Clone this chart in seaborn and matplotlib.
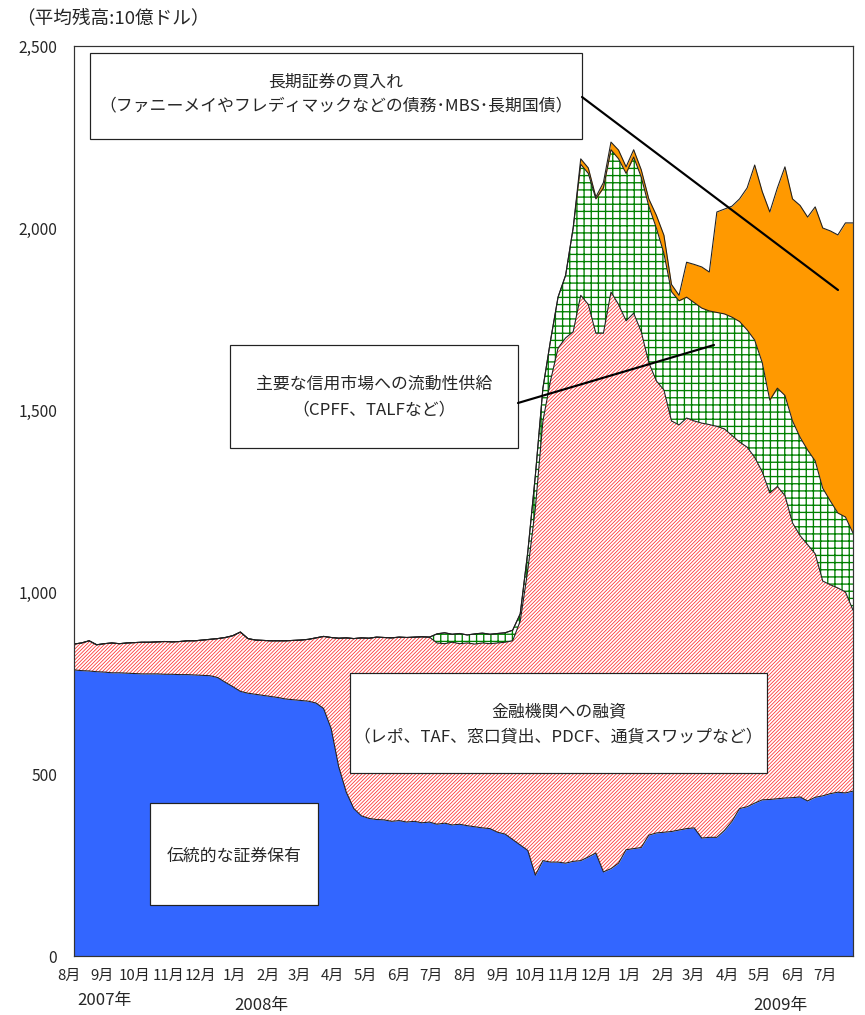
import numpy as np
import pandas as pd
import seaborn as sns
import matplotlib.pyplot as plt
import matplotlib.transforms as mtransforms
from matplotlib.patches import Rectangle
from matplotlib.lines import Line2D

# weekly average balances, 10億ドル
weeks = pd.date_range("2007-08-01", periods=104, freq="7D")

traditional = [786, 784, 783, 781, 780, 778, 778, 777, 776, 775,
               775, 775, 774, 774, 773, 773, 772, 771, 770, 765,
               752, 740, 727, 722, 719, 716, 713, 710, 706, 704,
               702, 700, 695, 680, 625, 520, 450, 405, 385, 378,
               375, 374, 370, 372, 368, 370, 366, 368, 362, 365,
               360, 362, 358, 355, 352, 350, 340, 335, 320, 305,
               290, 222, 262, 258, 258, 255, 260, 262, 272, 283,
               231, 240, 255, 292, 295, 298, 332, 338, 340, 342,
               346, 350, 352, 324, 326, 326, 345, 370, 405, 410,
               420, 429, 430, 432, 434, 435, 437, 426, 436, 440,
               446, 450, 448, 453]

lending = [71, 76, 83, 74, 78, 82, 80, 83, 85, 87,
           87, 88, 90, 89, 91, 93, 94, 97, 100, 107,
           123, 140, 163, 150, 149, 151, 153, 156, 160, 163,
           166, 170, 179, 198, 250, 353, 424, 467, 489, 495,
           501, 501, 504, 504, 507, 506, 511, 508, 498, 493,
           502, 496, 502, 502, 508, 508, 520, 527, 546, 615,
           770, 1008, 1208, 1322, 1412, 1443, 1455, 1553, 1518, 1428,
           1480, 1584, 1535, 1453, 1471, 1417, 1298, 1242, 1215, 1128,
           1113, 1128, 1118, 1140, 1134, 1129, 1103, 1060, 1007, 988,
           950, 901, 842, 858, 831, 755, 718, 704, 669, 590,
           574, 561, 552, 497]

credit_markets = [0] * 48 + [
    25, 30, 22, 28, 22, 28, 27, 26, 26, 26,
    29, 20, 50, 90, 90, 110, 140, 172, 285, 360,
    360, 369, 399, 391, 400, 405, 429, 425, 430, 420,
    375, 355, 341, 332, 325, 316, 312, 313, 316, 325,
    331, 322, 322, 300, 255, 270, 275, 280, 270, 260,
    255, 255, 230, 206, 206, 212]

long_term = [0] * 67 + [
    15, 15, 5, 15, 21, 24, 18, 20, 20, 20,
    35, 50, 20, 15, 96, 105, 113, 107, 276, 288,
    305, 337, 390, 481, 470, 517, 550, 628, 610, 637,
    640, 698, 715, 742, 764, 808, 852]

month_starts = pd.date_range("2007-08-01", "2009-07-01", freq="MS")
month_labels = [f"{d.month}月" for d in month_starts]
year_labels = ["2007年", "2008年", "2009年"]

sns.set_style("white")
plt.rcParams["font.family"] = ["Noto Sans CJK JP", "DejaVu Sans"]

W, H, DPI = 865, 1015, 86.5
fig = plt.figure(figsize=(W / DPI, H / DPI), dpi=DPI)
ax = fig.add_axes([74 / W, 1 - 956 / H, (853 - 74) / W, (956 - 46) / H])

levels = np.cumsum([traditional, lending, credit_markets, long_term], axis=0)
bottoms = np.vstack([np.zeros(len(weeks)), levels[:-1]])
styles = [
    dict(facecolor="#3366ff", edgecolor="#3366ff", hatch=None),
    dict(facecolor="white", edgecolor="#ff3030", hatch="////////"),
    dict(facecolor="white", edgecolor="#008000", hatch="++"),
    dict(facecolor="#ff9900", edgecolor="#ff9900", hatch=None),
]
hatch_lw = [1.0, 0.65, 1.1, 1.0]
for lo, hi, st, hlw in zip(bottoms, levels, styles, hatch_lw):
    with plt.rc_context({"hatch.linewidth": hlw}):
        poly = ax.fill_between(weeks, lo, hi, linewidth=0, **st)
    if hasattr(poly, "set_hatch_linewidth"):
        poly.set_hatch_linewidth(hlw)

for hi in levels:
    sns.lineplot(x=weeks, y=hi, color="#202020", linewidth=0.9,
                 estimator=None, legend=False, ax=ax)

ax.set_xlim(weeks[0], weeks[-1])
ax.set_ylim(0, 2500)
ax.set_yticks(range(0, 2501, 500))
ax.set_yticklabels([f"{v:,}" for v in range(0, 2501, 500)])
ax.set_xticks(month_starts)
ax.set_xticklabels(month_labels)
ax.set_xlabel("")
ax.set_ylabel("")
ax.tick_params(axis="both", direction="in", length=5, width=0.8, color="#333333")
ax.tick_params(axis="y", pad=14, labelsize=13)
ax.tick_params(axis="x", pad=11, labelsize=12.5)
shift = mtransforms.ScaledTranslation(-5 / DPI, 0, fig.dpi_scale_trans)
for lab in ax.get_xticklabels():
    lab.set_transform(lab.get_transform() + shift)
for sp in ax.spines.values():
    sp.set_visible(True)
    sp.set_color("#333333")
    sp.set_linewidth(1.0)


def fx(x):
    return x / W


def fy(y):
    return 1 - y / H


fig.text(fx(16), fy(18), "（平均残高:10億ドル）", ha="left", va="center", fontsize=15.5)
for lab, (x, y) in zip(year_labels, [(105, 1000), (261, 1005), (780, 1005)]):
    fig.text(fx(x), fy(y), lab, ha="center", va="center", fontsize=14)


def note(x0, y0, x1, y1, lines, ys):
    fig.add_artist(Rectangle((fx(x0), fy(y1)), (x1 - x0) / W, (y1 - y0) / H,
                             transform=fig.transFigure, facecolor="white",
                             edgecolor="#222222", linewidth=1.0, zorder=5))
    for txt, y in zip(lines, ys):
        fig.text(fx((x0 + x1) / 2), fy(y), txt, ha="center", va="center",
                 fontsize=14, zorder=6)


def leader(x0, y0, x1, y1):
    fig.add_artist(Line2D([fx(x0), fx(x1)], [fy(y0), fy(y1)],
                          transform=fig.transFigure, color="black",
                          linewidth=1.8, zorder=6))


note(90, 53, 582, 139,
     ["長期証券の買入れ", "（ファニーメイやフレディマックなどの債務･MBS･長期国債）"], [82, 106])
leader(582, 97, 838, 290)

note(230, 345, 518, 448, ["主要な信用市場への流動性供給", "（CPFF、TALFなど）"], [384, 410])
leader(518, 403, 714, 345)

note(350, 673, 767, 773, ["金融機関への融資", "（レポ、TAF、窓口貸出、PDCF、通貨スワップなど）"], [712, 737])

note(150, 803, 318, 905, ["伝統的な証券保有"], [856])

fig.savefig("out.png", dpi=DPI)
